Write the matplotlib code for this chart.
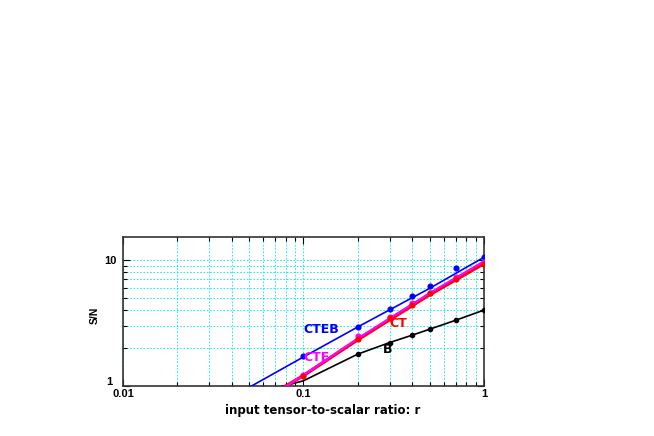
import matplotlib
matplotlib.use("Agg")
import matplotlib.pyplot as plt
from matplotlib.ticker import LogLocator, FixedLocator, FixedFormatter, NullFormatter
from matplotlib.transforms import ScaledTranslation

plt.rcParams['font.family'] = ['Liberation Sans', 'DejaVu Sans']

# Data points
r_pts = [0.1, 0.2, 0.3, 0.4, 0.5, 0.7, 1.0]
cteb_pts = [1.74, 2.96, 4.11, 5.18, 6.18, 8.6, 10.6]
cte_pts = [1.22, 2.49, 3.51, 4.53, 5.44, 7.29, 9.63]
ct_pts = [1.2, 2.37, 3.49, 4.42, 5.44, 7.08, 9.2]
b_r_pts = [0.2, 0.3, 0.4, 0.5, 0.7, 1.0]
b_pts = [1.79, 2.21, 2.53, 2.82, 3.33, 4.0]

# Fitted curves
cteb_fit_r = [0.05, 0.1, 0.2, 0.5, 1.0]
cteb_fit = [0.975, 1.70, 2.94, 5.95, 10.5]
ct_fit_r = [0.078, 0.1, 0.2, 0.5, 1.0]
ct_fit = [0.98, 1.21, 2.33, 5.3, 9.35]
cte_fit_r = [0.078, 0.1, 0.2, 0.5, 1.0]
cte_fit = [0.97, 1.22, 2.38, 5.45, 9.75]
b_fit_r = [0.074, 0.1, 0.2, 0.3, 0.4, 0.5, 0.7, 1.0]
b_fit = [0.98, 1.1, 1.79, 2.21, 2.53, 2.82, 3.33, 4.0]

curve_labels = ['CTEB', 'CT', 'CTE', 'B']
label_colors = ['#0000ff', '#ff0000', '#ff00ff', 'black']
label_r = [0.1, 0.301, 0.1, 0.275]
label_sn = [2.82, 3.15, 1.68, 1.93]

fig = plt.figure(figsize=(6.54, 4.36), dpi=100)
ax = fig.add_axes([0.188, 0.1147, 0.552, 0.3417])
ax.set_xscale('log')
ax.set_yscale('log')
ax.set_xlim(0.01, 1)
ax.set_ylim(1, 15.2)

ax.plot(cteb_fit_r, cteb_fit, color='#0000ff', lw=1.2, zorder=3)
ax.plot(b_fit_r, b_fit, color='black', lw=1.2, zorder=3)
ax.plot(ct_fit_r, ct_fit, color='#ff0000', lw=2.4, zorder=3)
ax.plot(cte_fit_r, cte_fit, color='#ff00ff', lw=1.6, zorder=4)

ax.plot(r_pts, cteb_pts, 'o', color='#0000ff', ms=3.4, zorder=5)
ax.plot(r_pts, cte_pts, 'o', color='#ff00ff', ms=3.4, zorder=5)
ax.plot(r_pts, ct_pts, 'o', color='#ff0000', ms=3.4, zorder=5)
ax.plot(b_r_pts, b_pts, 'o', color='black', ms=3.0, zorder=5)

for txt, col, xr, ys in zip(curve_labels, label_colors, label_r, label_sn):
    ax.text(xr, ys, txt, color=col, fontsize=9, fontweight='bold',
            family=['DejaVu Sans'], ha='left', va='center', zorder=6)

ax.xaxis.set_major_locator(FixedLocator([0.01, 0.1, 1]))
ax.xaxis.set_major_formatter(FixedFormatter(['0.01', '0.1', '1']))
ax.xaxis.set_minor_locator(LogLocator(base=10, subs=range(2, 10)))
ax.xaxis.set_minor_formatter(NullFormatter())
ax.yaxis.set_major_locator(FixedLocator([1, 10]))
ax.yaxis.set_major_formatter(FixedFormatter(['1', '10']))
ax.yaxis.set_minor_locator(LogLocator(base=10, subs=range(2, 10)))
ax.yaxis.set_minor_formatter(NullFormatter())

ax.grid(True, which='both', color='#00e5ee', ls=(0, (2, 2)), lw=0.6, zorder=0)
ax.tick_params(which='both', direction='in', top=True, right=True, labelsize=8, width=0.8)
ax.tick_params(which='major', length=5)
ax.tick_params(which='minor', length=3)
ax.tick_params(axis='y', which='major', pad=4.5)
ax.tick_params(axis='x', which='major', pad=2)
for lab in ax.get_xticklabels() + ax.get_yticklabels():
    lab.set_fontweight('bold')
for s in ax.spines.values():
    s.set_linewidth(1.2)
    s.set_color('#333333')

# nudge the y "1" label up-left so it sits above "0.01" as in the reference
ytick0 = ax.yaxis.get_major_ticks()[0]
ytick0.label1.set_transform(ytick0.label1.get_transform() +
                            ScaledTranslation(-4 / 100, 5 / 100, fig.dpi_scale_trans))

ax.set_xlabel('input tensor-to-scalar ratio: r', fontsize=8.5, fontweight='bold',
              family=['DejaVu Sans'], va='top')
ax.xaxis.set_label_coords(0.554, -0.118)
ax.set_ylabel('S/N', fontsize=7.5, fontweight='bold', va='center')
ax.yaxis.set_label_coords(-0.079, 0.473)

fig.savefig('out.png', dpi=100)
